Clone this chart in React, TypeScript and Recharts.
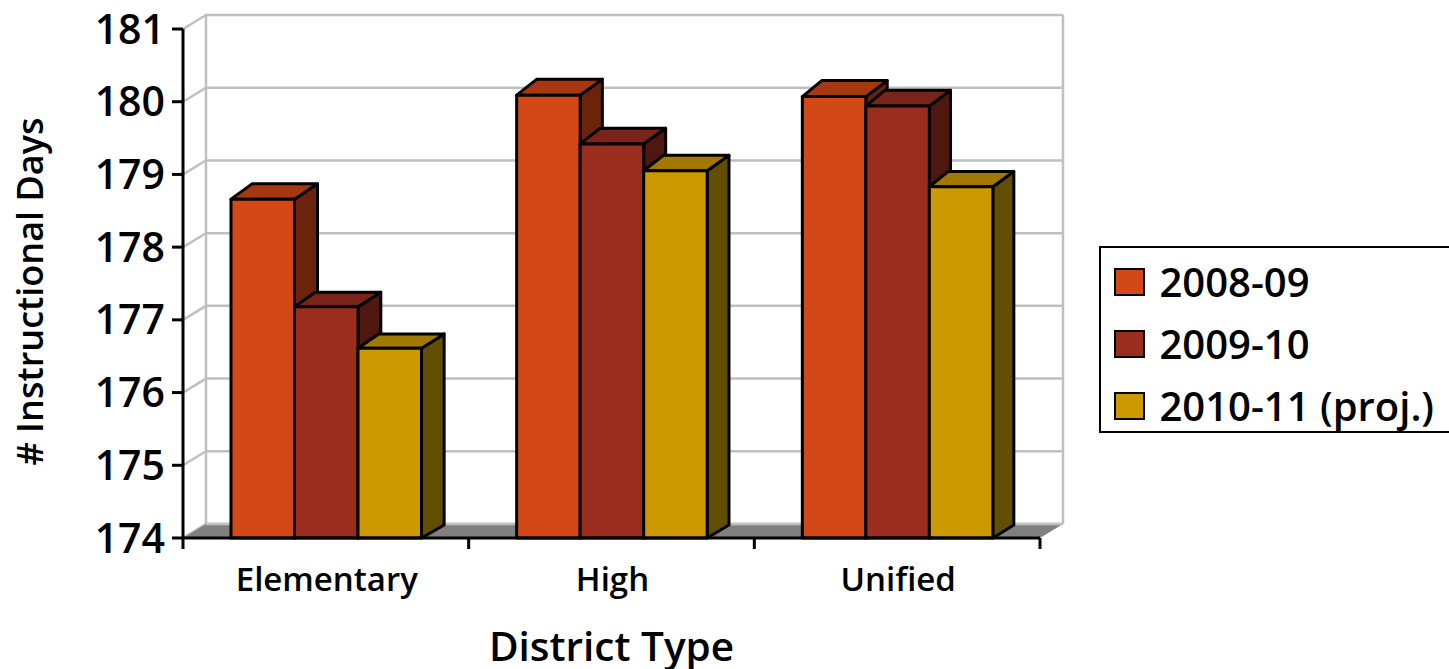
import { BarChart, Bar, XAxis, YAxis, CartesianGrid, Legend, usePlotArea } from "recharts";

const categories = ["Elementary", "High", "Unified"];
const values0809 = [178.66, 180.09, 180.07];
const values0910 = [177.18, 179.42, 179.94];
const values1011 = [176.61, 179.05, 178.83];
const yTicks = [174, 175, 176, 177, 178, 179, 180, 181];

const data = categories.map((name, i) => ({
	name,
	y0809: values0809[i],
	y0910: values0910[i],
	y1011: values1011[i],
}));

const FONT = "'Open Sans', sans-serif";
const DEPTH_X = 23;
const DEPTH_Y = 14;
const WALL = "#c0c0c0";

const shades: Record<string, { top: string; side: string }> = {
	"#d34817": { top: "#a6380f", side: "#6b240b" },
	"#9b2d1f": { top: "#7a2318", side: "#4f1710" },
	"#cc9900": { top: "#a17900", side: "#624e00" },
};

function Wall() {
	const plot = usePlotArea();
	if (!plot) return null;
	const { x, y, width, height } = plot;
	const bottom = y + height;
	const right = x + width;
	return (
		<g>
			<line x1={x + DEPTH_X} y1={y - DEPTH_Y} x2={x + DEPTH_X} y2={bottom - DEPTH_Y} stroke={WALL} strokeWidth={2.5} />
			<line x1={right + DEPTH_X} y1={y - DEPTH_Y} x2={right + DEPTH_X} y2={bottom - DEPTH_Y} stroke={WALL} strokeWidth={2.5} />
			<polygon
				points={`${x},${bottom} ${x + DEPTH_X},${bottom - DEPTH_Y} ${right + DEPTH_X},${bottom - DEPTH_Y} ${right},${bottom}`}
				fill="#808080"
			/>
			<line x1={x + DEPTH_X} y1={bottom - DEPTH_Y} x2={right + DEPTH_X} y2={bottom - DEPTH_Y} stroke={WALL} strokeWidth={2.5} />
		</g>
	);
}

function gridLine(props: any) {
	const { x1, x2, y1 } = props;
	return (
		<polyline
			key={`grid-${y1}`}
			points={`${x1},${y1} ${x1 + DEPTH_X},${y1 - DEPTH_Y} ${x2 + DEPTH_X},${y1 - DEPTH_Y}`}
			fill="none"
			stroke={WALL}
			strokeWidth={2.5}
		/>
	);
}

function Bar3D(props: any) {
	const { x, y, width, height, fill } = props;
	const shade = shades[fill];
	const right = x + width;
	const dy = 13 + (3 * height) / 440;
	const dxRight = 23 - (2 * (right - 294)) / 700;
	const dxLeft = dxRight - 2;
	return (
		<g stroke="#000" strokeWidth={3} strokeLinejoin="round">
			<polygon
				points={`${right},${y} ${right + dxRight},${y - dy} ${right + dxRight},${y + height - 13} ${right},${y + height}`}
				fill={shade.side}
			/>
			<polygon
				points={`${x},${y} ${x + dxLeft},${y - dy} ${right + dxRight},${y - dy} ${right},${y}`}
				fill={shade.top}
			/>
			<rect x={x} y={y} width={width} height={height} fill={fill} />
		</g>
	);
}

function CategoryTick(props: any) {
	const { x, y, payload, index, width } = props;
	const band = width / categories.length;
	const axisY = y - 8;
	return (
		<g>
			<line x1={x - band / 2} y1={axisY} x2={x - band / 2} y2={axisY + 11} stroke="#000" strokeWidth={3} />
			{index === categories.length - 1 && (
				<line x1={x + band / 2} y1={axisY} x2={x + band / 2} y2={axisY + 11} stroke="#000" strokeWidth={3} />
			)}
			<text x={x + 1} y={axisY + 53} textAnchor="middle" fontFamily={FONT} fontWeight={600} fontSize={33} fill="#000">
				{payload.value}
			</text>
		</g>
	);
}

function LegendBox({ payload }: any) {
	return (
		<div
			style={{
				boxSizing: "border-box",
				width: 360,
				height: 187,
				border: "2.5px solid #000",
				background: "#fff",
				paddingTop: 3,
			}}
		>
			{(payload || []).map((item: any) => (
				<div
					key={item.value}
					style={{
						display: "flex",
						alignItems: "center",
						height: 62,
						paddingLeft: 12.5,
						fontFamily: FONT,
						fontWeight: 600,
						fontSize: 40,
						color: "#000",
						whiteSpace: "nowrap",
					}}
				>
					<span
						style={{
							boxSizing: "border-box",
							width: 31,
							height: 28,
							border: "2.5px solid #000",
							background: item.color,
							marginRight: 15,
						}}
					/>
					<span style={{ position: "relative", top: -1 }}>{item.value}</span>
				</div>
			))}
		</div>
	);
}

export default function App() {
	return (
		<div style={{ position: "absolute", left: 0, top: 0, width: 1449, height: 669, overflow: "hidden", background: "#fff" }}>
			<BarChart
				width={1449}
				height={669}
				data={data}
				margin={{ top: 29, right: 49, bottom: 0, left: 0 }}
				barGap={0}
				barSize={63.5}
			>
				<Wall />
				<CartesianGrid vertical={false} horizontal={gridLine} />
				<XAxis
					dataKey="name"
					height={131}
					interval={0}
					tickLine={false}
					tick={<CategoryTick />}
					axisLine={{ stroke: "#000", strokeWidth: 3 }}
					label={{
						value: "District Type",
						position: "insideBottom",
						offset: 8,
						style: { fontFamily: FONT, fontWeight: 600, fontSize: 40.5, fill: "#000" },
					}}
				/>
				<YAxis
					width={183}
					domain={[174, 181]}
					ticks={yTicks}
					interval={0}
					tickSize={11}
					tickMargin={7}
					axisLine={{ stroke: "#000", strokeWidth: 3 }}
					tickLine={{ stroke: "#000", strokeWidth: 3 }}
					tick={{ fontFamily: FONT, fontWeight: 600, fontSize: 41, fill: "#000" }}
					label={{
						value: "# Instructional Days",
						angle: -90,
						position: "insideLeft",
						offset: 0,
						dx: 30,
						dy: 8,
						style: { fontFamily: FONT, fontWeight: 600, fontSize: 36, fill: "#000", textAnchor: "middle" },
					}}
				/>
				<Legend
					layout="vertical"
					align="right"
					verticalAlign="middle"
					content={<LegendBox />}
					wrapperStyle={{ left: 1099, top: 246, right: "auto", width: 360, height: 187 }}
				/>
				<Bar dataKey="y0809" name="2008-09" fill="#d34817" shape={Bar3D} isAnimationActive={false} />
				<Bar dataKey="y0910" name="2009-10" fill="#9b2d1f" shape={Bar3D} isAnimationActive={false} />
				<Bar dataKey="y1011" name="2010-11 (proj.)" fill="#cc9900" shape={Bar3D} isAnimationActive={false} />
			</BarChart>
		</div>
	);
}
